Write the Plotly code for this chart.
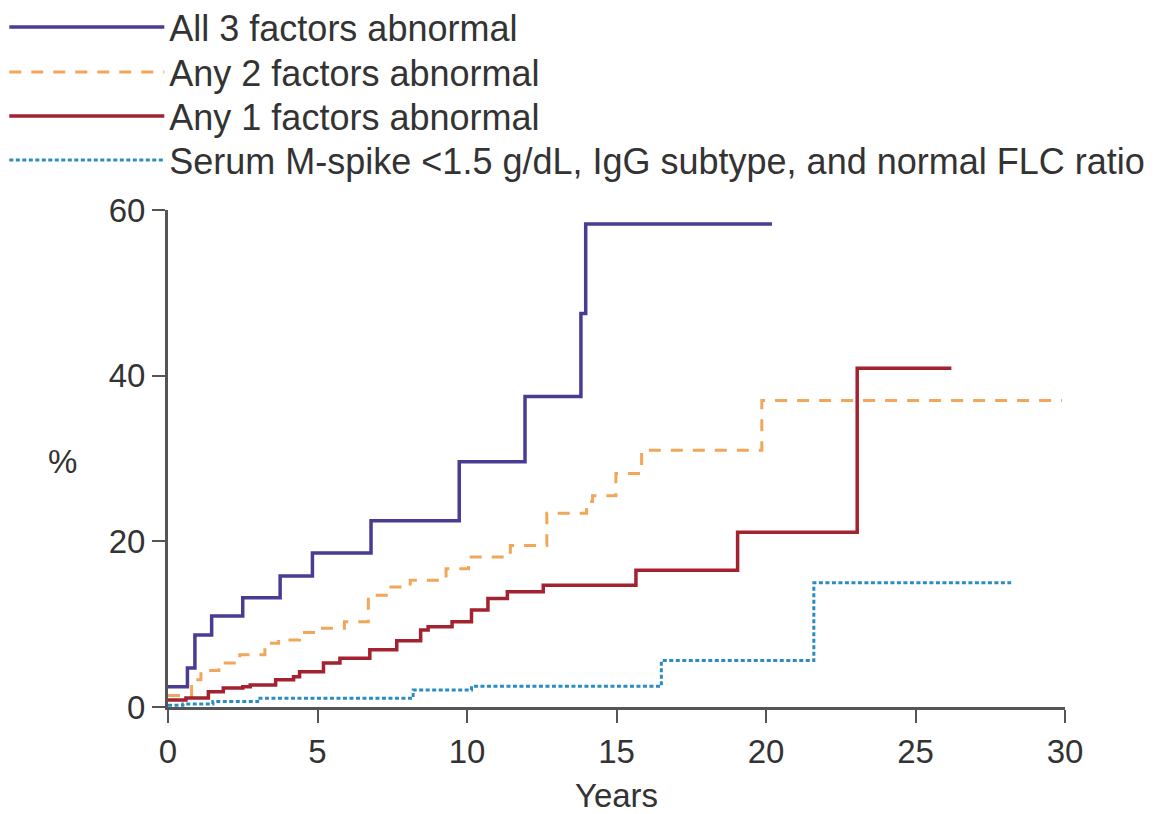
import plotly.graph_objects as go

# series (years, cumulative %)
all3_t = [0, 0.65, 0.9, 1.46, 2.5, 3.75, 4.83, 6.79, 9.74, 11.94, 13.81, 13.97, 20.2]
all3_v = [2.45, 4.7, 8.7, 11.0, 13.2, 15.8, 18.6, 22.5, 29.6, 37.5, 47.5, 58.3, 58.3]

any2_t = [0, 0.79, 1.1, 1.7, 2.4, 3.24, 3.7, 4.4, 5.1, 5.9, 6.7, 7.4, 8.1, 9.3,
          10.05, 11.45, 12.67, 14.0, 14.2, 14.98, 15.84, 19.86, 29.9]
any2_v = [1.4, 3.3, 4.4, 5.3, 6.3, 7.7, 8.1, 9.0, 9.5, 10.3, 13.5, 14.5, 15.3, 16.7,
          18.1, 19.5, 23.4, 24.8, 25.5, 28.2, 31.0, 37.0, 37.0]

any1_t = [0, 0.6, 1.35, 1.85, 2.5, 2.75, 3.6, 4.2, 4.4, 5.2, 5.75, 6.75, 7.65, 8.45,
          8.7, 9.5, 10.15, 10.7, 11.35, 12.55, 15.65, 19.05, 23.05, 26.2]
any1_v = [0.85, 1.1, 1.85, 2.3, 2.45, 2.65, 3.3, 3.65, 4.25, 5.3, 5.9, 6.9, 8.0, 9.3,
          9.7, 10.3, 11.7, 13.1, 13.9, 14.7, 16.5, 21.1, 40.9, 40.9]

low_t = [0, 0.5, 1.5, 3.0, 8.2, 10.15, 16.5, 21.6, 28.2]
low_v = [0.2, 0.35, 0.65, 1.05, 2.05, 2.5, 5.6, 15.0, 15.0]

names = ["All 3 factors abnormal",
         "Any 2 factors abnormal",
         "Any 1 factors abnormal",
         "Serum M-spike <1.5 g/dL, IgG subtype, and normal FLC ratio"]

x_ticks = [0, 5, 10, 15, 20, 25, 30]
y_ticks = [0, 20, 40, 60]

FONT = "Liberation Sans, Arial, Helvetica, sans-serif"

fig = go.Figure()
fig.add_trace(go.Scatter(x=all3_t, y=all3_v, mode="lines", line_shape="hv", name=names[0],
                         legend="legend",
                         line=dict(color="#4a3b93", width=3.5)))
fig.add_trace(go.Scatter(x=any2_t, y=any2_v, mode="lines", line_shape="hv", name=names[1],
                         legend="legend2",
                         line=dict(color="#f2a65a", width=3, dash="12px,10px")))
fig.add_trace(go.Scatter(x=any1_t, y=any1_v, mode="lines", line_shape="hv", name=names[2],
                         legend="legend3",
                         line=dict(color="#a3222f", width=3.5)))
fig.add_trace(go.Scatter(x=low_t, y=low_v, mode="lines", line_shape="hv", name=names[3],
                         legend="legend4",
                         line=dict(color="#2b8cc4", width=3, dash="4px,2.5px")))


# one legend per row so the rows can sit as close as in the reference
def row_legend(ypos):
    return dict(x=-0.1825, y=ypos, xanchor="left", yanchor="middle",
                bgcolor="rgba(0,0,0,0)", itemwidth=155,
                font=dict(size=36, color="#333333"))


# page body has an 8px default margin, so the figure is 8px smaller than the window
fig.update_layout(
    width=1152, height=806,
    margin=dict(l=160, r=95, t=202, b=107, autoexpand=False),
    plot_bgcolor="white", paper_bgcolor="white",
    font=dict(family=FONT, size=33, color="#333333"),
    showlegend=True,
    legend=row_legend(1.3682),
    legend2=row_legend(1.2777),
    legend3=row_legend(1.1891),
    legend4=row_legend(1.1006),
    xaxis=dict(range=[0, 30], tickvals=x_ticks, showgrid=False, zeroline=False,
               showline=True, linecolor="#555555", linewidth=3,
               ticks="outside", ticklen=13, tickwidth=2, tickcolor="#555555",
               automargin=False,
               title=dict(text="Years", standoff=18, font=dict(size=33))),
    yaxis=dict(range=[0, 60], tickvals=y_ticks, showgrid=False, zeroline=False,
               showline=True, linecolor="#555555", linewidth=3,
               ticks="outside", ticklen=13, tickwidth=2, tickcolor="#555555",
               ticklabelstandoff=0, automargin=False),
)

fig.add_annotation(text="%", xref="paper", yref="paper", x=-0.118, y=0.493,
                   xanchor="center", yanchor="middle",
                   showarrow=False, font=dict(size=33, color="#333333"))

fig.write_html("out.html")
